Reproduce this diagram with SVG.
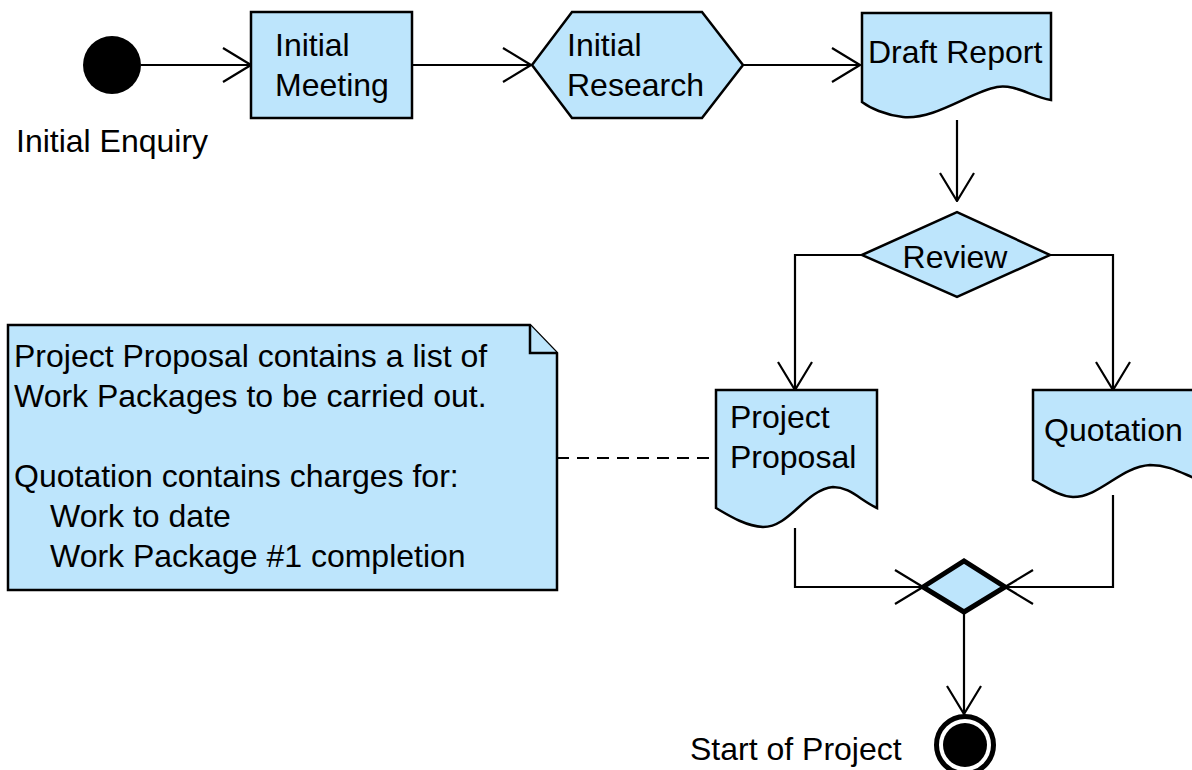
<svg xmlns="http://www.w3.org/2000/svg" width="1192" height="770" viewBox="0 0 1192 770">
<defs>
<style>
.n{fill:#bde5fc;stroke:#000;stroke-width:2.5;stroke-linejoin:miter}
.t{font-family:"Liberation Sans",Arial,sans-serif;font-size:32px;fill:#000}
.c{fill:none;stroke:#000;stroke-width:2.2}
</style>
<marker id="a" viewBox="0 0 30 40" refX="29" refY="20" markerWidth="30" markerHeight="40" markerUnits="userSpaceOnUse" orient="auto">
<path d="M1,3 L29,20 L1,37" fill="none" stroke="#000" stroke-width="2.2"/>
</marker>
</defs>
<rect width="1192" height="770" fill="#fff"/>
<g id="connectors">
<line class="c" x1="141" y1="65" x2="251" y2="65" marker-end="url(#a)"/>
<line class="c" x1="412" y1="65" x2="531" y2="65" marker-end="url(#a)"/>
<line class="c" x1="743" y1="65" x2="860" y2="65" marker-end="url(#a)"/>
<line class="c" x1="957" y1="120" x2="957" y2="201" marker-end="url(#a)"/>
<polyline class="c" points="862,255 795,255 795,390" marker-end="url(#a)"/>
<polyline class="c" points="1050,255 1113,255 1113,390" marker-end="url(#a)"/>
<polyline class="c" points="795,528 795,587 923,587" marker-end="url(#a)"/>
<polyline class="c" points="1113,495 1113,587 1005,587" marker-end="url(#a)"/>
<line class="c" x1="964" y1="612" x2="964" y2="714" marker-end="url(#a)"/>
<line class="c" x1="557" y1="458" x2="716" y2="458" stroke-dasharray="12,8"/>
</g>
<g id="initial-enquiry">
<circle cx="112" cy="65" r="29" fill="#000"/>
<text class="t" x="16" y="152">Initial Enquiry</text>
</g>
<g id="initial-meeting">
<rect class="n" x="251" y="12" width="161" height="106"/>
<text class="t" x="275" y="56">Initial</text>
<text class="t" x="275" y="96">Meeting</text>
</g>
<g id="initial-research">
<polygon class="n" points="532,65 572,12 702,12 743,65 702,118 572,118"/>
<text class="t" x="567" y="56">Initial</text>
<text class="t" x="567" y="96">Research</text>
</g>
<g id="draft-report">
<path class="n" d="M862,13 L1051,13 L1051,100 C1030,96 1015,84 997,87 C970,92 935,120 903,117 C885,115 870,108 862,102 Z"/>
<text class="t" x="868" y="63">Draft Report</text>
</g>
<g id="review">
<polygon class="n" points="862,255 957,212 1050,255 957,297"/>
<text class="t" x="955" y="268" text-anchor="middle">Review</text>
</g>
<g id="project-proposal">
<path class="n" d="M716,390 L877,390 L877,508 C860,500 850,487 833,487 C805,490 790,527 763,527 C745,526 728,515 716,508 Z"/>
<text class="t" x="730" y="428">Project</text>
<text class="t" x="730" y="468">Proposal</text>
</g>
<g id="quotation">
<path class="n" d="M1033,390 L1194,390 L1194,478 C1180,472 1168,465 1150,465 C1120,467 1100,497 1073,497 C1058,496 1045,486 1033,480 Z"/>
<text class="t" x="1044" y="441">Quotation</text>
</g>
<g id="note">
<path class="n" d="M8,325 L530,325 L557,353 L557,590 L8,590 Z"/>
<path class="n" d="M530,325 L530,353 L557,353"/>
<text class="t" x="14" y="367">Project Proposal contains a list of</text>
<text class="t" x="14" y="407">Work Packages to be carried out.</text>
<text class="t" x="14" y="487">Quotation contains charges for:</text>
<text class="t" x="50" y="527">Work to date</text>
<text class="t" x="50" y="567">Work Package #1 completion</text>
</g>
<g id="join">
<polygon points="923,587 964,561 1005,587 964,612" fill="#bde5fc" stroke="#000" stroke-width="5"/>
</g>
<g id="start-of-project">
<circle cx="965" cy="745" r="28.5" fill="#fff" stroke="#000" stroke-width="5"/>
<circle cx="965" cy="745" r="22" fill="#000"/>
<text class="t" x="690" y="760">Start of Project</text>
</g>
</svg>
